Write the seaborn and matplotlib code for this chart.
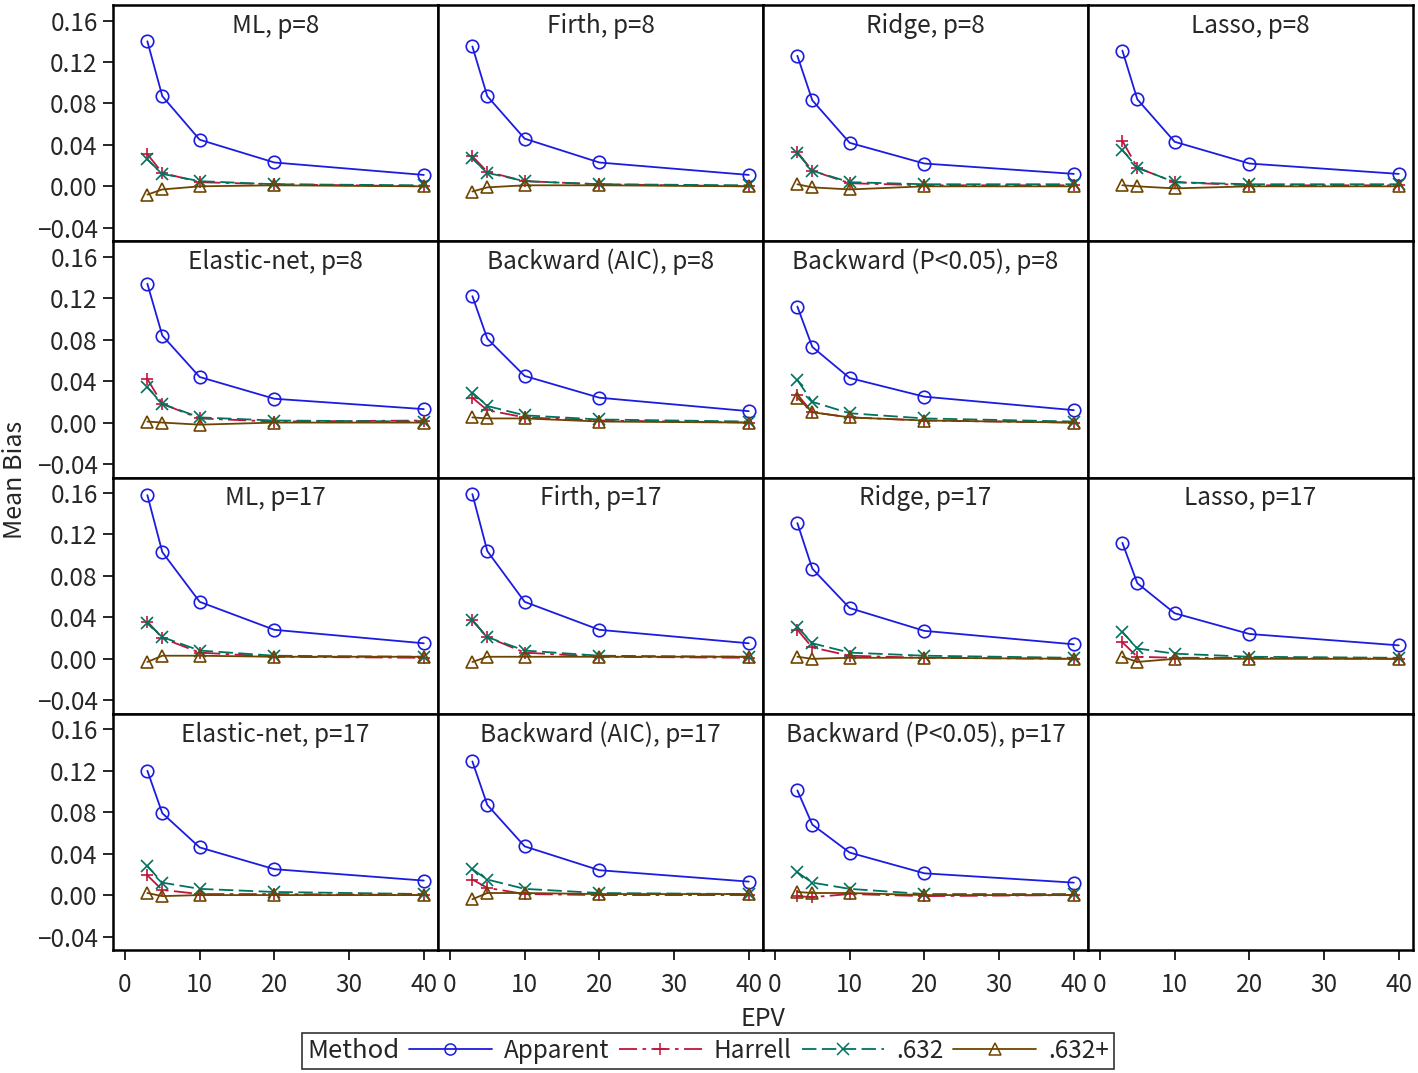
import pandas as pd
import matplotlib
matplotlib.use("Agg")
import matplotlib.pyplot as plt
import seaborn as sns
from matplotlib.lines import Line2D
from matplotlib.ticker import FuncFormatter

EPV = [3, 5, 10, 20, 40]
PANELS = ["ML, p=8", "Firth, p=8", "Ridge, p=8", "Lasso, p=8",
          "Elastic-net, p=8", "Backward (AIC), p=8", "Backward (P<0.05), p=8",
          "ML, p=17", "Firth, p=17", "Ridge, p=17", "Lasso, p=17",
          "Elastic-net, p=17", "Backward (AIC), p=17", "Backward (P<0.05), p=17"]
METHODS = ["Apparent", "Harrell", ".632", ".632+"]

# mean bias per panel (rows follow PANELS), columns follow EPV
apparent = [
    [0.140, 0.087, 0.045, 0.023, 0.011],
    [0.135, 0.087, 0.046, 0.023, 0.011],
    [0.126, 0.083, 0.042, 0.022, 0.012],
    [0.131, 0.084, 0.043, 0.022, 0.012],
    [0.134, 0.084, 0.044, 0.023, 0.013],
    [0.122, 0.081, 0.045, 0.024, 0.011],
    [0.112, 0.073, 0.043, 0.025, 0.012],
    [0.158, 0.103, 0.055, 0.028, 0.015],
    [0.159, 0.104, 0.055, 0.028, 0.015],
    [0.131, 0.087, 0.049, 0.027, 0.014],
    [0.112, 0.073, 0.044, 0.024, 0.013],
    [0.120, 0.079, 0.046, 0.025, 0.014],
    [0.129, 0.087, 0.047, 0.024, 0.013],
    [0.101, 0.068, 0.041, 0.021, 0.012],
]
harrell = [
    [0.031, 0.013, 0.004, 0.002, 0.000],
    [0.029, 0.014, 0.005, 0.002, 0.000],
    [0.033, 0.015, 0.003, 0.001, 0.001],
    [0.044, 0.018, 0.004, 0.001, 0.001],
    [0.042, 0.018, 0.004, 0.001, 0.002],
    [0.024, 0.012, 0.005, 0.002, 0.000],
    [0.027, 0.010, 0.005, 0.002, 0.000],
    [0.036, 0.020, 0.006, 0.002, 0.001],
    [0.037, 0.021, 0.006, 0.002, 0.001],
    [0.028, 0.011, 0.003, 0.001, 0.000],
    [0.016, 0.002, 0.001, 0.001, 0.000],
    [0.019, 0.005, 0.001, 0.001, 0.000],
    [0.015, 0.007, 0.001, 0.000, 0.000],
    [-0.001, -0.002, 0.001, -0.001, 0.000],
]
b632 = [
    [0.026, 0.012, 0.005, 0.002, 0.001],
    [0.027, 0.013, 0.005, 0.002, 0.001],
    [0.032, 0.015, 0.004, 0.002, 0.002],
    [0.035, 0.018, 0.004, 0.002, 0.002],
    [0.034, 0.018, 0.005, 0.002, 0.001],
    [0.029, 0.016, 0.007, 0.003, 0.001],
    [0.041, 0.020, 0.009, 0.004, 0.001],
    [0.035, 0.021, 0.008, 0.003, 0.002],
    [0.037, 0.021, 0.008, 0.003, 0.002],
    [0.031, 0.015, 0.006, 0.003, 0.001],
    [0.026, 0.010, 0.005, 0.002, 0.001],
    [0.028, 0.012, 0.006, 0.003, 0.001],
    [0.025, 0.015, 0.006, 0.002, 0.001],
    [0.022, 0.012, 0.006, 0.001, 0.001],
]
b632plus = [
    [-0.008, -0.003, 0.000, 0.001, 0.000],
    [-0.005, -0.001, 0.001, 0.001, 0.000],
    [0.002, -0.001, -0.003, 0.000, 0.000],
    [0.001, 0.000, -0.002, 0.000, 0.000],
    [0.001, 0.000, -0.002, 0.000, 0.000],
    [0.005, 0.004, 0.004, 0.001, 0.000],
    [0.024, 0.010, 0.005, 0.002, 0.000],
    [-0.003, 0.003, 0.003, 0.002, 0.002],
    [-0.003, 0.002, 0.002, 0.002, 0.002],
    [0.002, 0.000, 0.001, 0.001, 0.000],
    [0.002, -0.003, 0.000, 0.000, 0.000],
    [0.002, -0.001, 0.000, 0.000, 0.000],
    [-0.004, 0.002, 0.002, 0.001, 0.001],
    [0.003, 0.002, 0.002, 0.000, 0.000],
]

COLORS = {"Apparent": "#1C1CE0", "Harrell": "#C0143C", ".632": "#00735F", ".632+": "#6E4500"}
MARKERS = {"Apparent": "o", "Harrell": "+", ".632": "x", ".632+": "^"}
STYLES = {"Apparent": "-", "Harrell": (0, (10, 3, 2, 3)), ".632": (0, (8, 3)), ".632+": "-"}

rows = []
for name, vals in zip(METHODS, [apparent, harrell, b632, b632plus]):
    for p, title in enumerate(PANELS):
        for e, v in zip(EPV, vals[p]):
            rows.append({"Panel": title, "Method": name, "EPV": e, "Bias": v})
df = pd.DataFrame(rows)

sns.set_style("ticks")
plt.rcParams["font.family"] = ["Noto Sans CJK JP", "DejaVu Sans"]
plt.rcParams["font.size"] = 17

fig, axes = plt.subplots(4, 4, figsize=(14.18, 10.73), dpi=100, sharex=True, sharey=True)
fig.subplots_adjust(left=113 / 1418, right=1413 / 1418, top=1 - 5 / 1073,
                    bottom=1 - 950 / 1073, wspace=0, hspace=0)

# 4x4 grid, last cell of rows 2 and 4 left empty
cells = [i for i in range(16) if i not in (7, 15)]

for k, title in enumerate(PANELS):
    ax = axes.flat[cells[k]]
    sub = df[df["Panel"] == title]
    for m in METHODS:
        c = COLORS[m]
        sns.lineplot(data=sub[sub["Method"] == m], x="EPV", y="Bias", ax=ax,
                     color=c, marker=MARKERS[m], markersize=9, mfc="none", mec=c,
                     mew=1.2, lw=1.3, linestyle=STYLES[m], legend=False)
    ax.text(0.5, 0.912, title, transform=ax.transAxes, ha="center", va="center", fontsize=17.5)

for i, ax in enumerate(axes.flat):
    r, c = divmod(i, 4)
    ax.set_xlabel("")
    ax.set_ylabel("")
    ax.set_xlim(-1.6, 41.9)
    ax.set_ylim(-0.053, 0.175)
    ax.set_xticks([0, 10, 20, 30, 40])
    ax.set_yticks([-0.04, 0.0, 0.04, 0.08, 0.12, 0.16])
    ax.yaxis.set_major_formatter(FuncFormatter(lambda v, _: f"{v:.2f}".replace("-", "\u2212")))
    for s in ax.spines.values():
        s.set_visible(True)
        s.set_linewidth(1.8)
        s.set_color("black")
    ax.tick_params(direction="out", length=7, width=1.4, labelsize=17.5, pad=4,
                   left=(c == 0), bottom=(r == 3))
    ax.tick_params(axis="x", pad=9)

fig.text(15 / 1418, 1 - 480 / 1073, "Mean Bias", rotation=90, ha="center", va="center", fontsize=18)
fig.text(763 / 1418, 1 - 1019 / 1073, "EPV", ha="center", va="center", fontsize=18)

handles = [Line2D([], [], color=COLORS[m], marker=MARKERS[m], mfc="none", mec=COLORS[m],
                  mew=1.1, ms=8, lw=1.3, linestyle=STYLES[m]) for m in METHODS]
leg = fig.legend(handles, METHODS, title="Method", loc="center",
                 bbox_to_anchor=(708 / 1418, 1 - 1051 / 1073), ncol=4, frameon=True,
                 fancybox=False, edgecolor="black", handlelength=3.4, fontsize=17.5,
                 title_fontsize=18.5, borderpad=0.2, columnspacing=0.4, handletextpad=0.5)
leg.get_frame().set_linewidth(1.2)
# put the legend title on the left of the entries instead of above them
leg._legend_box._children = [leg._legend_handle_box]
leg._legend_handle_box._children.insert(0, leg._legend_title_box)

fig.savefig("out.png", dpi=100)
